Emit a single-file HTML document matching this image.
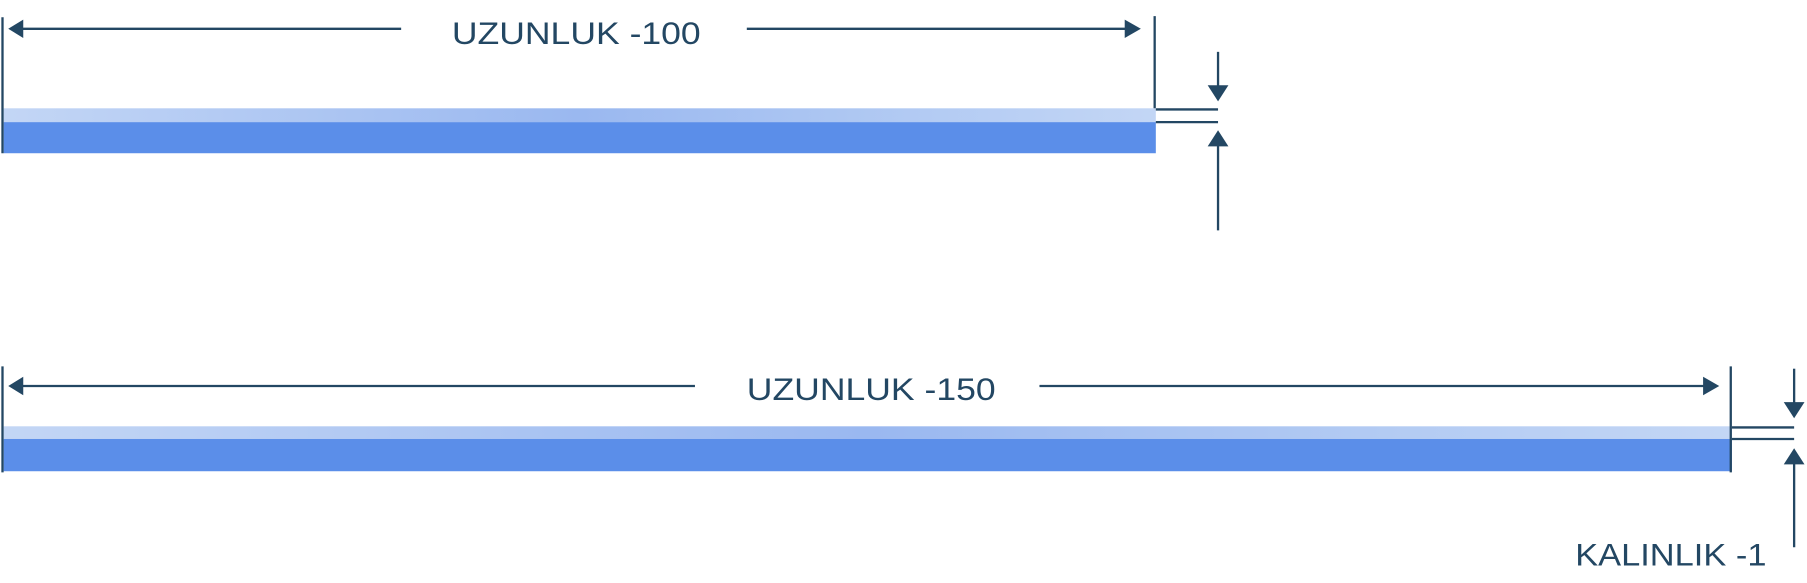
<!DOCTYPE html>
<html><head><meta charset="utf-8"><style>html,body{margin:0;padding:0;background:#fff;overflow:hidden}svg{display:block}</style></head>
<body>
<svg width="1807" height="583" viewBox="0 0 1568 506" xmlns="http://www.w3.org/2000/svg" font-family="Liberation Sans, sans-serif">
<defs>
<linearGradient id="g" x1="0" x2="1" y1="0" y2="0">
<stop offset="0" stop-color="#c3d6f5"/><stop offset="0.5" stop-color="#9ab8f0"/><stop offset="0.8" stop-color="#b3cbf3"/><stop offset="1" stop-color="#c3d6f5"/>
</linearGradient>
</defs>
<g stroke="#234763" stroke-width="2" fill="#234763">
<rect x="3" y="94" width="1000" height="12" fill="url(#g)" stroke="none"/>
<rect x="3" y="106" width="1000" height="27" fill="#5b8ee9" stroke="none"/>
<line x1="2" y1="15" x2="2" y2="133"/>
<line x1="1002" y1="14" x2="1002" y2="94"/>
<line x1="18" y1="25" x2="348" y2="25"/>
<polygon points="7,25 20,17 20,33" stroke="none"/>
<line x1="648" y1="25" x2="978" y2="25"/>
<polygon points="990,25 976,17 976,33" stroke="none"/>
<line x1="1003" y1="95" x2="1057" y2="95"/>
<line x1="1003" y1="106" x2="1057" y2="106"/>
<line x1="1057" y1="45" x2="1057" y2="76"/>
<polygon points="1057,88 1048,74 1066,74" stroke="none"/>
<line x1="1057" y1="125" x2="1057" y2="200"/>
<polygon points="1057,113 1048,127 1066,127" stroke="none"/>
<rect x="3" y="370" width="1500" height="11" fill="url(#g)" stroke="none"/>
<rect x="3" y="381" width="1500" height="28" fill="#5b8ee9" stroke="none"/>
<line x1="2" y1="318" x2="2" y2="410"/>
<line x1="1502" y1="318" x2="1502" y2="410"/>
<line x1="18" y1="335" x2="603" y2="335"/>
<polygon points="7,335 20,327 20,343" stroke="none"/>
<line x1="902" y1="335" x2="1480" y2="335"/>
<polygon points="1492,335 1478,327 1478,343" stroke="none"/>
<line x1="1503" y1="371" x2="1557" y2="371"/>
<line x1="1503" y1="381" x2="1557" y2="381"/>
<line x1="1557" y1="320" x2="1557" y2="350"/>
<polygon points="1557,363 1548,349 1566,349" stroke="none"/>
<line x1="1557" y1="400" x2="1557" y2="475"/>
<polygon points="1557,389 1548,403 1566,403" stroke="none"/>
</g>
<g fill="#234763" font-size="27">
<text x="392" y="38" textLength="216" lengthAdjust="spacingAndGlyphs">UZUNLUK -100</text>
<text x="648" y="347" textLength="216" lengthAdjust="spacingAndGlyphs">UZUNLUK -150</text>
<text x="1367" y="491" textLength="166" lengthAdjust="spacingAndGlyphs">KALINLIK -1</text>
</g>
</svg>
</body></html>
